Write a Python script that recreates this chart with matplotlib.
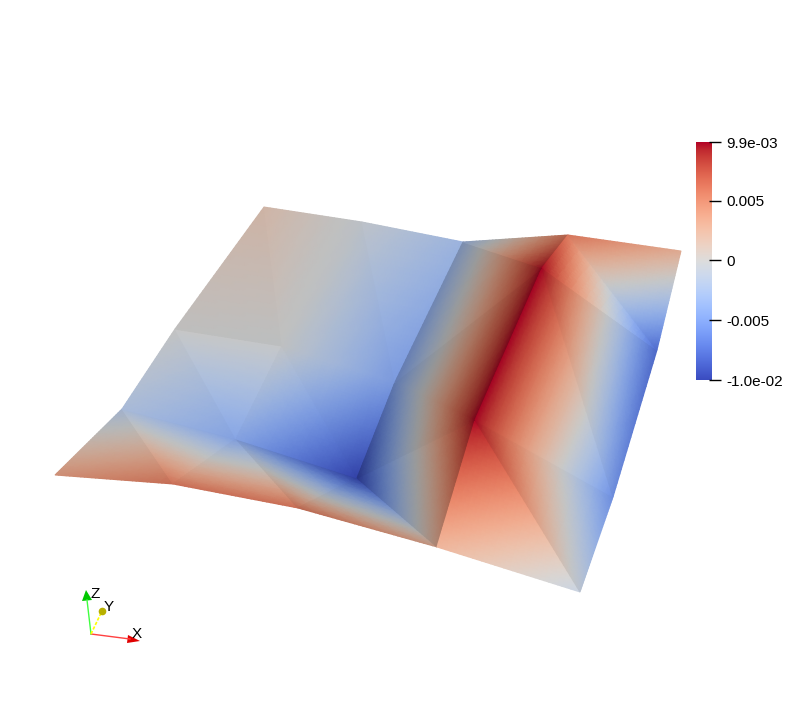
#!/usr/bin/env python3
"""Surface mesh coloured by a scalar, with a colour bar and an axes triad."""

import numpy as np
import matplotlib
matplotlib.use("Agg")
import matplotlib.pyplot as plt
import matplotlib.tri as mtri
from matplotlib.colors import ListedColormap

plt.rcParams["font.family"] = ["Liberation Sans", "DejaVu Sans"]

# mesh nodes as seen on screen, 5 columns by 4 rows, bottom row first
node_x = [55, 173, 298, 437, 580,
          122, 236, 357, 475, 613,
          175, 282, 395, 542, 657,
          264, 362, 463, 568, 681]
node_y = [475, 484, 508, 547, 592,
          409, 439, 478, 420, 497,
          329, 346, 382, 268, 350,
          207, 222, 242, 235, 251]
node_val = [0.004, 0.006, 0.006, 0.003, -0.001,
            -0.002, -0.0045, -0.010, 0.0099, -0.006,
            0.0, -0.0002, -0.005, 0.0099, -0.008,
            0.0015, -0.0005, -0.003, 0.006, 0.003]

# brightness of each triangle (lower, upper per cell), from lighting
face_shade = [0.83, 0.87, 0.85, 0.80, 0.78, 0.70, 0.97, 0.89,
              0.88, 0.90, 0.88, 0.87, 0.68, 0.68, 0.91, 0.88,
              0.86, 0.87, 0.87, 0.88, 0.70, 0.75, 0.93, 0.90]

N_COLS, N_ROWS = 5, 4
VMIN, VMAX = -0.01, 0.0099

bar_ticks = [-0.01, -0.005, 0, 0.005, 0.0099]
bar_labels = ["-1.0e-02", "-0.005", "0", "0.005", "9.9e-03"]

W, H = 787, 724


def build_triangles():
    tris = []
    for j in range(N_ROWS - 1):
        for i in range(N_COLS - 1):
            a = j * N_COLS + i
            b = a + 1
            c = a + N_COLS
            d = c + 1
            tris.append([a, b, c])
            tris.append([b, d, c])
    return np.array(tris)


def draw_surface(ax):
    x = np.array(node_x, dtype=float)
    y = np.array(node_y, dtype=float)
    z = np.array(node_val)
    base = plt.get_cmap("coolwarm")(np.linspace(0, 1, 256))[:, :3]
    for t, shade in zip(build_triangles(), face_shade):
        tr = mtri.Triangulation(x[t], y[t], [[0, 1, 2]])
        # refine so the scalar, not the RGB, gets interpolated across the face
        fine, fine_z = mtri.UniformTriRefiner(tr).refine_field(
            z[t], triinterpolator=mtri.LinearTriInterpolator(tr, z[t]), subdiv=5)
        ax.tripcolor(fine, fine_z, shading="gouraud", vmin=VMIN, vmax=VMAX,
                     cmap=ListedColormap(base * shade))


def draw_triad(ax):
    ox, oy = 91, 634
    ax.plot([ox, 130], [oy, 639], color="#ff4040", lw=1)
    ax.fill([140, 128, 127], [641, 635, 643], color="#e00000", lw=0)
    ax.plot([ox, 87], [oy, 600], color="#40ff40", lw=1)
    ax.fill([86, 82, 92], [590, 601, 600], color="#00c800", lw=0)
    ax.plot([ox, 102], [oy, 611], color="#ffff00", lw=1.2, ls=(0, (2, 1)))
    ax.plot([102], [611], "o", color="#b8b000", ms=5.5, mew=0)
    ax.text(95, 594, "Z", fontsize=11, ha="center", va="center")
    ax.text(109, 607, "Y", fontsize=11, ha="center", va="center")
    ax.text(137, 634, "X", fontsize=11, ha="center", va="center")


def draw_colorbar(fig):
    cax = fig.add_axes([696 / W, 1 - 380 / H, 16 / W, 238 / H])
    grad = np.linspace(VMIN, VMAX, 256).reshape(-1, 1)
    cax.imshow(grad, origin="lower", aspect="auto", cmap="coolwarm",
               vmin=VMIN, vmax=VMAX, extent=[0, 1, VMIN, VMAX])
    cax.set_xticks([])
    cax.yaxis.tick_right()
    cax.set_yticks(bar_ticks, bar_labels)
    cax.tick_params(axis="y", length=0, pad=10, labelsize=11)
    for s in cax.spines.values():
        s.set_visible(False)
    cax.hlines(bar_ticks, 0.8, 1.56, color="black", lw=1, clip_on=False,
               transform=cax.get_yaxis_transform())


def main():
    fig = plt.figure(figsize=(W / 100, H / 100), dpi=100)
    ax = fig.add_axes([0, 0, 1, 1])
    ax.set_xlim(0, W)
    ax.set_ylim(H, 0)
    ax.axis("off")
    draw_surface(ax)
    draw_triad(ax)
    draw_colorbar(fig)
    fig.savefig("out.png", dpi=100)


if __name__ == "__main__":
    main()
